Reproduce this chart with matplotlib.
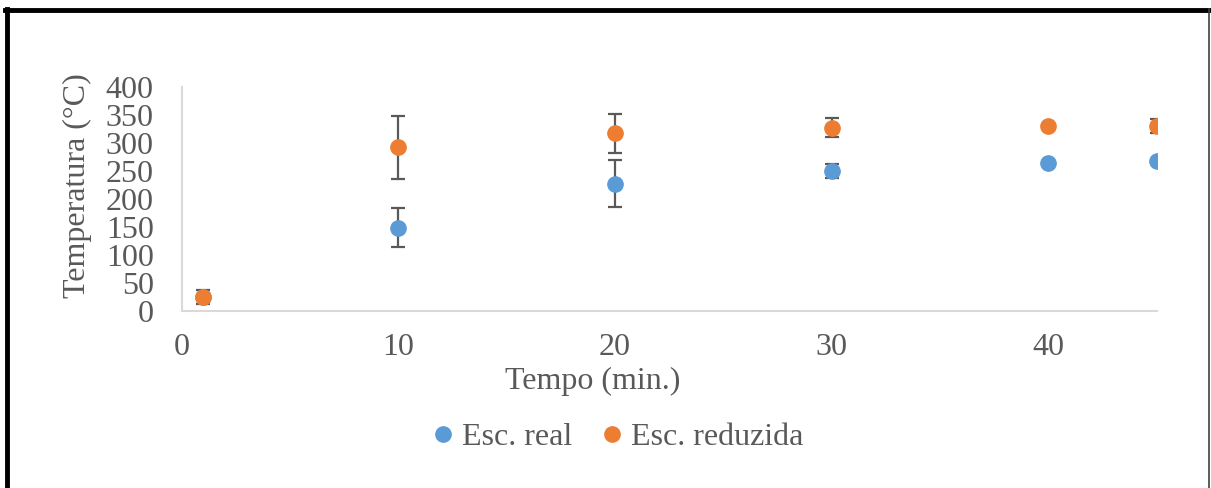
import matplotlib
matplotlib.use("Agg")
import matplotlib.pyplot as plt
from matplotlib.lines import Line2D

plt.rcParams['font.family'] = ['Liberation Serif', 'DejaVu Serif']

tempo = [1, 10, 20, 30, 40, 45]
real_vals = [25, 149, 227, 250, 264, 267]
real_err = [12, 35, 42, 13, 3, 3]
red_vals = [25, 292, 317, 327, 331, 330]
red_err = [0, 56, 34, 17, 3, 12]

x_ticks = [0, 10, 20, 30, 40]
y_ticks = [0, 50, 100, 150, 200, 250, 300, 350, 400]

blue = '#5B9BD5'
orange = '#ED7D31'
txt = '#595959'
FS = 23

fig = plt.figure(figsize=(12.11, 4.88), dpi=100)
ax = fig.add_axes([0.150, 0.3627, 0.805, 0.459])

ax.errorbar(tempo, real_vals, yerr=real_err, fmt='o', color=blue, ms=11,
            ecolor='#595959', elinewidth=1.6, capsize=5, capthick=1.6, zorder=3)
ax.errorbar(tempo, red_vals, yerr=red_err, fmt='o', color=orange, ms=11,
            ecolor='#595959', elinewidth=1.6, capsize=5, capthick=1.6, zorder=4)

ax.set_xlim(0, 45)
ax.set_ylim(0, 400)
ax.set_xticks(x_ticks)
ax.set_yticks(y_ticks)
ax.tick_params(axis='both', length=0, labelsize=FS, colors=txt)
ax.tick_params(axis='x', pad=16)
ax.tick_params(axis='y', pad=20)
for s in ['top', 'right']:
    ax.spines[s].set_visible(False)
for s in ['left', 'bottom']:
    ax.spines[s].set_color('#D9D9D9')
    ax.spines[s].set_linewidth(1.5)

ax.set_xlabel('Tempo (min.)', fontsize=FS, color=txt)
ax.xaxis.set_label_coords(0.4215, -0.25)
ax.set_ylabel('Temperatura (°C)', fontsize=FS, color=txt)
ax.yaxis.set_label_coords(-0.092, 0.558)

handles = [Line2D([], [], marker='o', ls='', color=blue, ms=11),
           Line2D([], [], marker='o', ls='', color=orange, ms=11)]
leg = fig.legend(handles, ['Esc. real', 'Esc. reduzida'], loc='center',
                 bbox_to_anchor=(0.507, 0.1045), ncol=2, frameon=False,
                 fontsize=FS, handletextpad=0.0, columnspacing=0.64,
                 handlelength=1.2, borderpad=0, borderaxespad=0)
for t in leg.get_texts():
    t.set_color(txt)

# outer border
fig.add_artist(Line2D([7/1211, 7/1211], [0, 1 - 9/488], color='black', lw=3.5, transform=fig.transFigure))
fig.add_artist(Line2D([5.3/1211, 1209/1211], [1 - 9.5/488, 1 - 9.5/488], color='black', lw=3.5, transform=fig.transFigure))
fig.add_artist(Line2D([1208.5/1211, 1208.5/1211], [0, 1 - 9/488], color='#404040', lw=1.2, transform=fig.transFigure))

fig.savefig('out.png', dpi=100, facecolor='white')
